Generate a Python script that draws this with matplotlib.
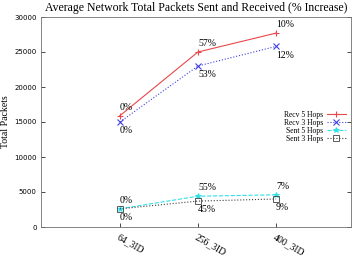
import matplotlib
matplotlib.use('Agg')
import matplotlib.pyplot as plt

# datos
categorias = ['64_3ID', '256_3ID', '400_3ID']
recv5 = [15900, 25000, 27700]
recv3 = [15000, 23000, 25800]
sent5 = [2600, 4400, 4600]
sent3 = [2600, 3700, 4000]
pct_recv5 = ['0%', '57%', '10%']
pct_recv3 = ['0%', '53%', '12%']
pct_sent5 = ['0%', '55%', '7%']
pct_sent3 = ['0%', '45%', '9%']

serif = 'Liberation Serif'
x = [1, 2, 3]

fig = plt.figure(figsize=(3.57, 2.57), dpi=100)
ax = fig.add_axes([41/357, 30/257, 310/357, 210/257])

ax.plot(x, recv5, color='#e8474a', lw=0.8, marker='+', ms=5, mew=0.8, label='Recv 5 Hops')
ax.plot(x, recv3, color='#4040e0', lw=0.8, ls=':', marker='x', ms=4, mew=0.8, label='Recv 3 Hops')
ax.plot(x, sent5, color='#30e0e8', lw=0.8, ls='--', marker='*', ms=4, mew=0.6, label='Sent 5 Hops')
ax.plot(x, sent3, color='#404040', lw=0.8, ls=':', marker='s', ms=4, mew=0.6,
        mfc='none', label='Sent 3 Hops')

# etiquetas de porcentaje
for xi, v, t in zip(x, recv5, pct_recv5):
    ax.annotate(t, (xi, v), xytext=(0, 3), textcoords='offset points',
                fontsize=7, family=serif, va='bottom')
for xi, v, t in zip(x, recv3, pct_recv3):
    ax.annotate(t, (xi, v), xytext=(0, -3), textcoords='offset points',
                fontsize=7, family=serif, va='top')
for xi, v, t in zip(x, sent5, pct_sent5):
    ax.annotate(t, (xi, v), xytext=(0, 3), textcoords='offset points',
                fontsize=7, family=serif, va='bottom')
for xi, v, t in zip(x, sent3, pct_sent3):
    ax.annotate(t, (xi, v), xytext=(0, -3), textcoords='offset points',
                fontsize=7, family=serif, va='top')

ax.set_xlim(-0.01, 3.96)
ax.set_ylim(0, 30000)
ax.set_yticks(range(0, 30001, 5000))
ax.set_xticks(x)
ax.set_xticklabels(categorias, rotation=-30, ha='left', rotation_mode='anchor',
                   family=serif, fontsize=7)
ax.tick_params(axis='y', labelsize=5, direction='in', length=3, width=0.5, right=True, pad=3)
ax.tick_params(axis='x', direction='in', length=3, width=0.5, top=False, pad=4)
for s in ax.spines.values():
    s.set_linewidth(0.6)
    s.set_color('#707070')

ax.set_ylabel('Total Packets', family=serif, fontsize=7, labelpad=3)
ax.set_title('Average Network Total Packets Sent and Received (% Increase)',
             family=serif, fontsize=8.5, pad=4)

leg = ax.legend(loc='upper right', bbox_to_anchor=(1.0, 0.575), frameon=False,
                markerfirst=False, prop={'family': serif, 'size': 5.5},
                handlelength=2.6, labelspacing=0.0, borderaxespad=0.2, handletextpad=0.4)
for t in leg.get_texts():
    t.set_ha('right')

fig.savefig('out.png', dpi=100)
